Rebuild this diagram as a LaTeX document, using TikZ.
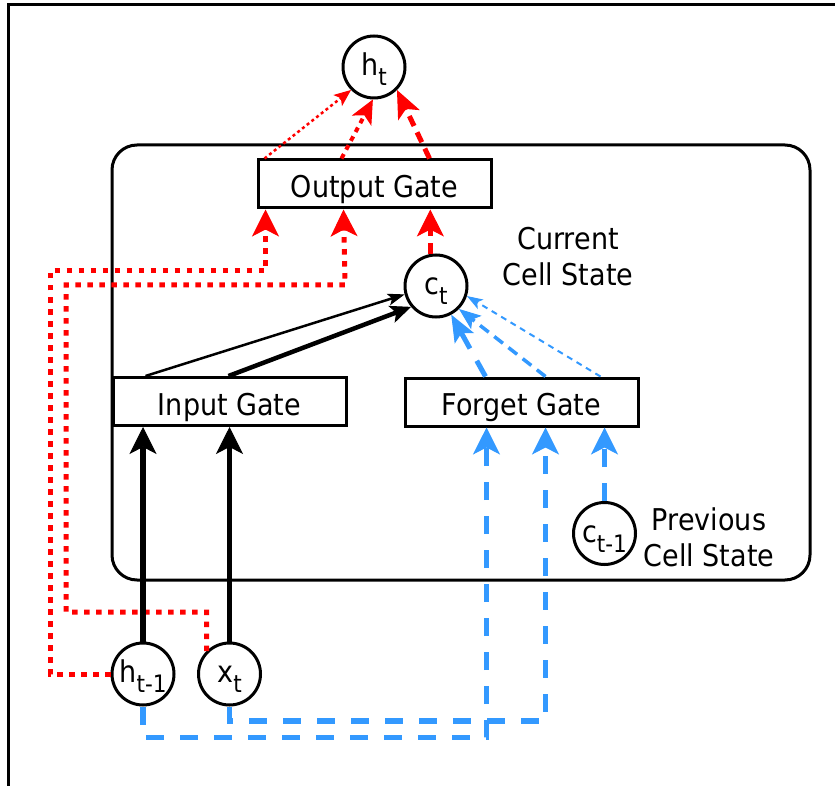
\documentclass[tikz,border=0pt]{standalone}
\usepackage{fontspec}
\setmainfont{DejaVu Sans}[FakeStretch=0.9]
\usetikzlibrary{arrows.meta}
\definecolor{lred}{RGB}{255,0,0}
\definecolor{lblue}{RGB}{51,153,255}
\newcommand\sbx[1]{\raisebox{-10pt}{\fontsize{24}{24}\selectfont #1}}
\begin{document}
\begin{tikzpicture}[x=1pt,y=-1pt,
  box/.style={draw,line width=3pt,fill=white,minimum width=233pt,minimum height=48pt,inner sep=0pt,text height=31pt,text depth=4pt,font=\fontsize{30}{36}\selectfont},
  circ/.style={circle,draw,line width=3pt,fill=white,minimum size=62pt,inner sep=0pt,text height=24pt,text depth=7pt,font=\fontsize{30}{32}\selectfont},
  lbl/.style={align=center,font=\fontsize{30}{36}\selectfont,inner sep=0pt},
  aBig/.style={-{Stealth[length=27pt,width=27pt,inset=7pt,line width=1pt]}},
  aMidR/.style={-{Stealth[length=24pt,width=22pt,inset=6pt,line width=1pt]}},
  aSmallR/.style={-{Stealth[length=17pt,width=14pt,inset=4pt,line width=1pt]}},
  aHt/.style={-{Stealth[length=28pt,width=24pt,inset=7pt,line width=1pt]}},
  aBlkThin/.style={-{Stealth[length=17pt,width=12pt,inset=4pt,line width=1pt]}},
  aBlkThick/.style={-{Stealth[length=21pt,width=18pt,inset=5pt,line width=1pt]}},
  aBlu1/.style={-{Stealth[length=27pt,width=22pt,inset=6pt,line width=1pt]}},
  aBlu2/.style={-{Stealth[length=22pt,width=17pt,inset=5pt,line width=1pt]}},
  aBlu3/.style={-{Stealth[length=16pt,width=11pt,inset=4pt,line width=1pt]}},
  rdot/.style={draw=lred,line width=5pt,dash pattern=on 5.5pt off 6.5pt},
  rdotthin/.style={draw=lred,line width=2.5pt,dash pattern=on 3pt off 3pt},
  rdotmid/.style={draw=lred,line width=4pt,dash pattern=on 5pt off 5pt},
  rdash/.style={draw=lred,line width=5pt,dash pattern=on 11pt off 7pt},
  bdash/.style={draw=lblue,line width=5.5pt,dash pattern=on 18pt off 16pt},
  bdash1/.style={draw=lblue,line width=5pt,dash pattern=on 18pt off 14pt},
  bdash2/.style={draw=lblue,line width=3.5pt,dash pattern=on 11pt off 7pt},
  bdash3/.style={draw=lblue,line width=2pt,dash pattern=on 6pt off 5pt},
  blk/.style={draw=black,line width=5.5pt},
  blkthin/.style={draw=black,line width=2.5pt},
  blkmid/.style={draw=black,line width=4.5pt}
]
\useasboundingbox (0,0) rectangle (835,786);
\draw[line width=3pt] (8.5,786) -- (8.5,5) -- (835,5);
\draw[line width=3pt,rounded corners=25pt] (112,145) rectangle (810,580);

\node[circ] (ht) at (374,67) {h\sbx{t}};
\node[box] (outgate) at (374.5,184) {Output Gate};
\node[circ] (ct) at (436,286) {c\sbx{t}};
\node[box] (ingate) at (229.5,401.5) {Input Gate};
\node[box] (forgate) at (521.5,402) {Forget Gate};
\node[circ] (ctm1) at (604.5,533.5) {c\sbx{t-1}};
\node[circ] (htm1) at (143,674) {h\sbx{t-1}};
\node[circ] (xt) at (229.5,674) {x\sbx{t}};
\node[lbl] (curlbl) at (568,257) {Current\\Cell State};
\node[lbl] (prevlbl) at (709,537) {Previous\\Cell State};

% red: output gate to h_t
\draw[rdotthin,aSmallR] ([xshift=8pt]outgate.north west) -- (ht.-135);
\draw[rdotmid,aMidR] ([xshift=85pt]outgate.north west) -- (ht.-92);
\draw[rdash,aHt] ([xshift=173pt]outgate.north west) -- (ht.-45);
% red: into output gate
\draw[rdot,aBig] (htm1.west) -| (50,271) -| ([xshift=9pt]outgate.south west);
\draw[rdot,aBig] (xt.135) |- (66,612) |- (345,285) -- ([xshift=87pt]outgate.south west);
\draw[rdash,aBig] (ct.100) -- (ct.100 |- outgate.south);

% black
\draw[blk,aBig] (htm1.north) -- (htm1.north |- ingate.south);
\draw[blk,aBig] (xt.north) -- (xt.north |- ingate.south);
\draw[blkthin,aBlkThin] ([xshift=34pt]ingate.north west) -- (ct.195);
\draw[blkmid,aBlkThick] ([xshift=117pt]ingate.north west) -- (ct.220);

% blue
\draw[bdash1,aBlu1] ([xshift=82pt]forgate.north west) -- (ct.-62);
\draw[bdash2,aBlu2] ([xshift=142pt]forgate.north west) -- (ct.-45);
\draw[bdash3,aBlu3] ([xshift=197pt]forgate.north west) -- (ct.-18);
\draw[bdash,aBig] (ctm1.north) -- (ctm1.north |- forgate.south);
\draw[bdash,aBig] (xt.south) -- ++(0,14.5) -| ([xshift=142pt]forgate.south west);
\draw[bdash,aBig] (htm1.south) -- ++(0,31) -| ([xshift=83pt]forgate.south west);
\end{tikzpicture}
\end{document}
